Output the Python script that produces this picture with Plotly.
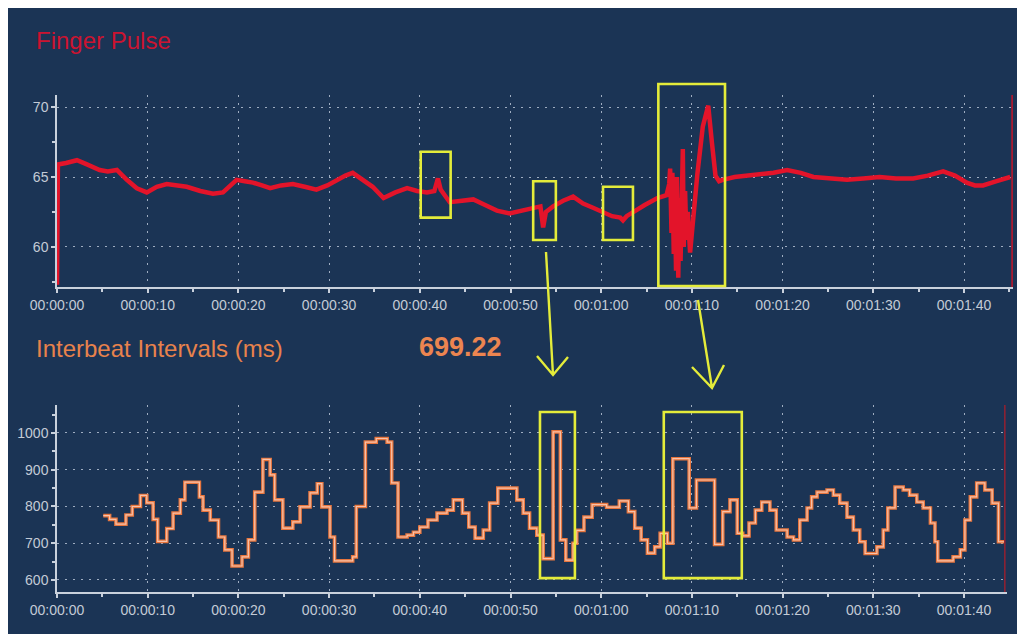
import plotly.graph_objects as go

# ---------------- data ----------------
tick_vals = [0, 10, 20, 30, 40, 50, 60, 70, 80, 90, 100]
tick_text = ["00:00:00", "00:00:10", "00:00:20", "00:00:30", "00:00:40", "00:00:50",
             "00:01:00", "00:01:10", "00:01:20", "00:01:30", "00:01:40"]

pulse_t = [0.0, 0.1, 1.0, 2.2, 3.3, 4.7, 5.6, 6.6, 7.7, 8.8, 9.9, 11.0, 12.1, 13.2, 14.3,
           15.8, 17.2, 18.3, 19.0, 19.8, 20.7, 21.6, 22.6, 23.5, 24.7, 26.0, 27.3, 28.6,
           29.8, 30.9, 31.8, 32.6, 33.7, 34.8, 36.0, 37.3, 38.6, 39.7, 40.8, 41.6, 42.0,
           42.3, 43.3, 44.6, 45.9, 47.2, 48.5, 49.9, 51.2, 52.5, 53.3, 53.6, 53.9, 54.7,
           55.8, 56.9, 58.0, 59.1, 60.2, 61.2, 62.1, 62.4, 62.8, 63.5, 64.8, 66.2, 67.2,
           67.5, 67.6, 67.75, 67.85, 68.0, 68.1, 68.25, 68.35, 68.5, 68.6, 68.75, 68.85,
           69.0, 69.1, 69.25, 69.4, 69.55, 69.8, 70.1, 70.6, 71.2, 71.8, 72.2, 72.6, 73.0,
           73.4, 74.7, 76.0, 77.5, 79.0, 80.5, 82.0, 83.4, 85.3, 87.1, 88.9, 90.7, 92.5,
           94.4, 96.0, 97.7, 99.0, 100.3, 101.2, 102.1, 103.6, 105.1]
pulse_v = [57.3, 65.9, 66.0, 66.2, 65.9, 65.5, 65.4, 65.5, 64.8, 64.2, 63.9, 64.3, 64.5,
           64.4, 64.3, 64.0, 63.8, 63.9, 64.3, 64.8, 64.7, 64.6, 64.4, 64.2, 64.4, 64.5,
           64.3, 64.1, 64.4, 64.8, 65.1, 65.3, 64.8, 64.3, 63.5, 63.9, 64.2, 64.0, 63.9,
           64.0, 64.9, 64.1, 63.2, 63.3, 63.4, 63.0, 62.6, 62.4, 62.6, 62.8, 62.9, 61.4,
           62.5, 62.9, 63.3, 63.6, 63.1, 62.8, 62.5, 62.2, 62.1, 61.9, 62.2, 62.5, 63.0,
           63.5, 63.7, 64.5, 65.6, 61.0, 65.3, 59.5, 64.8, 58.3, 65.0, 57.8, 63.5, 59.0,
           64.2, 67.0, 60.0, 64.0, 60.5, 62.5, 59.6, 61.9, 65.2, 68.6, 70.1, 67.5, 65.1,
           64.7, 64.8, 65.0, 65.1, 65.2, 65.3, 65.5, 65.3, 65.0, 64.9, 64.8, 64.9, 65.0,
           64.9, 64.9, 65.1, 65.4, 65.1, 64.6, 64.4, 64.4, 64.7, 65.0]

ibi_t = [5.1, 5.8, 6.5, 7.6, 8.3, 9.2, 9.9, 10.6, 11.1, 12.1, 12.8, 13.6, 14.1, 15.7,
         16.1, 16.9, 17.8, 18.5, 19.3, 20.4, 21.1, 21.8, 22.7, 23.5, 24.0, 24.9, 26.0,
         26.8, 27.9, 28.7, 29.2, 30.1, 30.6, 32.6, 33.0, 34.0, 35.2, 36.4, 36.9, 37.6,
         38.6, 39.3, 40.0, 40.9, 41.9, 43.0, 43.7, 44.7, 45.4, 46.1, 47.0, 47.7, 48.6,
         50.7, 51.4, 52.1, 52.9, 53.6, 54.7, 55.5, 56.1, 56.9, 57.3, 58.1, 59.0, 60.6,
         62.0, 63.0, 63.7, 64.4, 65.1, 65.9, 66.5, 67.3, 67.9, 69.7, 70.5, 72.5, 73.4,
         74.2, 75.0, 75.6, 76.3, 77.0, 77.7, 78.6, 79.3, 80.5, 81.2, 81.9, 82.7, 83.2,
         83.8, 84.9, 85.6, 86.3, 87.1, 87.8, 88.5, 89.1, 90.4, 91.1, 91.6, 92.4, 93.3,
         94.0, 94.8, 95.5, 96.3, 96.8, 97.1, 98.8, 99.6, 100.1, 100.7, 101.4, 102.3,
         103.1, 103.8, 104.5]
ibi_v = [775, 765, 752, 777, 800, 830, 810, 765, 705, 740, 782, 818, 866, 826, 790, 763,
         717, 682, 638, 663, 709, 839, 928, 886, 818, 741, 758, 799, 837, 862, 799, 717,
         652, 663, 800, 975, 985, 975, 864, 717, 722, 730, 744, 763, 782, 790, 818, 782,
         744, 714, 736, 809, 850, 818, 782, 741, 722, 658, 1003, 709, 654, 700, 735, 771,
         805, 798, 815, 786, 741, 709, 673, 690, 727, 700, 930, 796, 872, 697, 786, 818,
         727, 720, 755, 790, 812, 790, 736, 717, 709, 763, 796, 826, 839, 845, 831, 809,
         771, 736, 704, 672, 690, 736, 796, 853, 845, 831, 812, 796, 755, 704, 652, 663,
         682, 763, 826, 864, 845, 809, 704, 704]

# ---------------- styling ----------------
W, H = 1015, 634
OFF = 8  # page body margin: picture pixel = figure pixel + 8
NAVY = "#1b3455"
GRID = "rgba(215,225,240,0.7)"
AXIS = "#c9d1dc"
TICKFONT = dict(family="Arial", size=14, color="#c3cbd6")
YELLOW = "#e4ec3a"


def px(x):
    return (x - OFF) / W


def py(y):
    return 1 - (y - OFF) / H


fig = go.Figure()

fig.add_trace(go.Scatter(x=pulse_t, y=pulse_v, mode="lines", xaxis="x", yaxis="y",
                         line=dict(color="#e3142a", width=4.5), hoverinfo="skip",
                         showlegend=False))
fig.add_trace(go.Scatter(x=ibi_t, y=ibi_v, mode="lines", xaxis="x2", yaxis="y2",
                         line=dict(color="#e8763e", width=3.6, shape="hv"),
                         hoverinfo="skip", showlegend=False))
fig.add_trace(go.Scatter(x=ibi_t, y=ibi_v, mode="lines", xaxis="x2", yaxis="y2",
                         line=dict(color="#f7c2aa", width=1.2, shape="hv"),
                         hoverinfo="skip", showlegend=False))

common_x = dict(tickmode="array", tickvals=tick_vals, ticktext=tick_text,
                showline=True, linecolor=AXIS, linewidth=1.5,
                ticks="outside", ticklen=4, tickcolor=AXIS, tickwidth=1.5,
                tickfont=TICKFONT, showgrid=True, gridcolor=GRID, griddash="2px,6px",
                gridwidth=1.2, zeroline=False, automargin=False,
                minor=dict(tickmode="linear", tick0=0, dtick=5, ticks="outside",
                           ticklen=3, tickcolor=AXIS, showgrid=False))
common_y = dict(showline=True, linecolor=AXIS, linewidth=1.5,
                ticks="outside", ticklen=4, tickcolor=AXIS, tickwidth=1.5,
                tickfont=TICKFONT, showgrid=True, gridcolor=GRID, griddash="2px,6px",
                gridwidth=1.2, zeroline=False, automargin=False)

x_px_per_s = 9.07
top_range = [0, (1013 - 57) / x_px_per_s]
bot_range = [0, (1007 - 57) / x_px_per_s]

fig.update_layout(
    width=W, height=H,
    margin=dict(l=0, r=0, t=0, b=0, autoexpand=False),
    paper_bgcolor=NAVY,
    plot_bgcolor="rgba(0,0,0,0)",
    xaxis=dict(domain=[px(57), px(1013)], range=top_range, anchor="y", **common_x),
    yaxis=dict(domain=[py(287), py(95)], range=[57.14, 70.86], anchor="x",
               tickvals=[60, 65, 70],
               minor=dict(tickmode="linear", tick0=57.5, dtick=2.5, ticks="outside",
                          ticklen=3, tickcolor=AXIS, showgrid=False),
               **common_y),
    xaxis2=dict(domain=[px(57), px(1007)], range=bot_range, anchor="y2", **common_x),
    yaxis2=dict(domain=[py(592), py(405)], range=[567.3, 1076.1], anchor="x2",
                tickvals=[600, 700, 800, 900, 1000],
                minor=dict(tickmode="linear", tick0=550, dtick=50, ticks="outside",
                           ticklen=3, tickcolor=AXIS, showgrid=False),
                **common_y),
    showlegend=False,
)

shapes = []
# cursor lines at the right end
shapes.append(dict(type="line", xref="x", yref="paper", x0=top_range[1] - 0.1,
                   x1=top_range[1] - 0.1, y0=py(287), y1=py(95),
                   line=dict(color="#b8162c", width=1.6)))
shapes.append(dict(type="line", xref="x2", yref="paper", x0=104.5, x1=104.5,
                   y0=py(592), y1=py(405), line=dict(color="#8c2234", width=1.6)))

# yellow highlight boxes (top)
boxes_top = [(40.1, 43.4, 62.1, 66.8), (52.5, 55.0, 60.5, 64.7), (60.2, 63.5, 60.5, 64.3)]
for x0, x1, y0, y1 in boxes_top:
    shapes.append(dict(type="rect", xref="x", yref="y", x0=x0, x1=x1, y0=y0, y1=y1,
                       line=dict(color=YELLOW, width=2.6)))
shapes.append(dict(type="rect", xref="x", yref="paper", x0=66.3, x1=73.65,
                   y0=py(286), y1=py(84), line=dict(color=YELLOW, width=2.6)))
# yellow highlight boxes (bottom)
for x0, x1 in [(53.25, 57.1), (66.9, 75.5)]:
    shapes.append(dict(type="rect", xref="x2", yref="y2", x0=x0, x1=x1, y0=605, y1=1057,
                       line=dict(color=YELLOW, width=2.6)))


def arrow_path(sx, sy, tx, ty, a1, a2):
    return (f"M {px(sx)} {py(sy)} L {px(tx)} {py(ty)} "
            f"M {px(a1[0])} {py(a1[1])} L {px(tx)} {py(ty)} L {px(a2[0])} {py(a2[1])}")


shapes.append(dict(type="path", xref="paper", yref="paper",
                   path=arrow_path(546, 252, 553, 375, (537, 356), (568, 357)),
                   line=dict(color=YELLOW, width=2.4)))
shapes.append(dict(type="path", xref="paper", yref="paper",
                   path=arrow_path(698, 300, 712, 388, (692, 367), (724, 365)),
                   line=dict(color=YELLOW, width=2.4)))

fig.update_layout(shapes=shapes)

fig.add_annotation(x=px(34), y=py(40), xref="paper", yref="paper", text="Finger Pulse",
                   showarrow=False, xanchor="left", yanchor="middle",
                   font=dict(family="Arial", size=24, color="#cc1330"))
fig.add_annotation(x=px(34), y=py(348), xref="paper", yref="paper",
                   text="Interbeat Intervals (ms)", showarrow=False, xanchor="left",
                   yanchor="middle", font=dict(family="Arial", size=24, color="#e8824c"))
fig.add_annotation(x=px(417), y=py(347), xref="paper", yref="paper", text="<b>699.22</b>",
                   showarrow=False, xanchor="left", yanchor="middle",
                   font=dict(family="Arial", size=27, color="#ec8550"))

fig.write_html("out.html")
